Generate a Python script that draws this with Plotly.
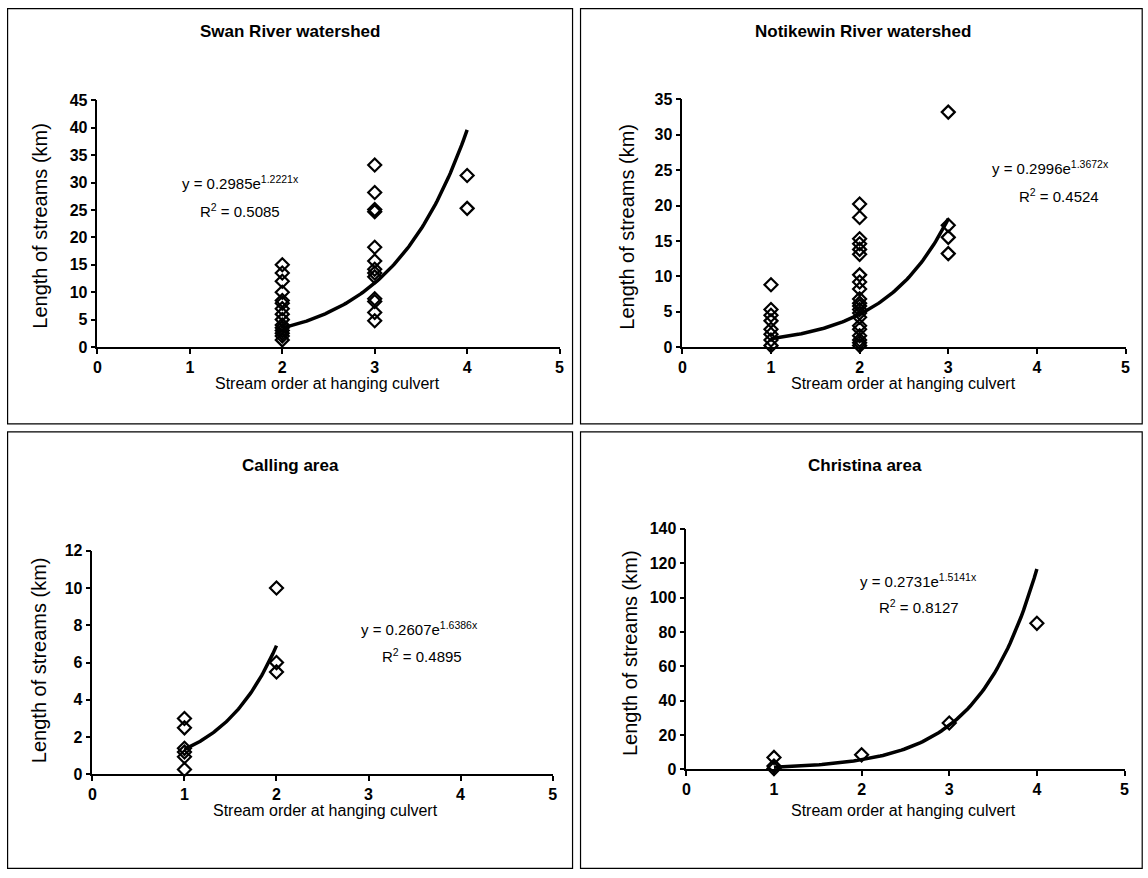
import numpy as np
import plotly.graph_objects as go

# ---------------- data ----------------
swan_x = [2]*15 + [3]*13 + [4]*2
swan_y = [15, 13.5, 12, 10, 8.5, 8, 7, 6, 5, 4, 3.5, 3, 2.5, 2, 1.3,
          33.2, 28.2, 25.1, 24.7, 18.2, 15.7, 14.2, 13.5, 12.8, 8.8, 8.3, 6.3, 4.8,
          31.3, 25.3]

noti_x = [1]*8 + [2]*21 + [3]*4
noti_y = [8.8, 5.3, 4.5, 3.7, 2.5, 1.8, 1.0, 0.2,
          20.2, 18.3, 15.3, 14.6, 13.8, 13.1, 10.2, 9.2, 8.2, 6.8, 6.2, 5.8, 5.3,
          4.8, 4.2, 3.0, 2.5, 1.6, 1.0, 0.6, 0.2,
          33.2, 17.2, 15.5, 13.2]

call_x = [1]*6 + [2]*3
call_y = [3.0, 2.5, 1.4, 1.2, 0.95, 0.27,
          10.0, 6.0, 5.5]

chri_x = [1, 1, 1, 2, 3, 4]
chri_y = [7.0, 2.0, 0.5, 8.5, 27.0, 85.0]

# fitted exponential trendlines y = a*exp(b*x), coefficients as printed
swan_fit = dict(a=0.2985, b=1.2221, x0=2, x1=4, r2="0.5085")
noti_fit = dict(a=0.2996, b=1.3672, x0=1, x1=3, r2="0.4524")
call_fit = dict(a=0.2607, b=1.6386, x0=1, x1=2, r2="0.4895")
chri_fit = dict(a=0.2731, b=1.5141, x0=1, x1=4, r2="0.8127")

titles = ["Swan River watershed", "Notikewin River watershed", "Calling area", "Christina area"]
y_ranges = [45, 35, 12, 140]
y_dticks = [5, 5, 2, 20]
x_ticks = [0, 1, 2, 3, 4, 5]

# ---------------- layout geometry ----------------
W, H = 1148, 878
FONT = "Arial, Liberation Sans, sans-serif"
# observed viewport -> picture mapping (picture = s*page + c); positions below are picture pixels
SX, CX = 0.994, 3.4
SY, CY = 0.982, 8.5

def px(x):
    return ((x - CX) / SX) / W

def py(y):
    return 1 - ((y - CY) / SY) / H

panels = [
    dict(xd=(97, 560), yd=(348, 101), box=(7, 7, 573, 425), title=(290, 32),
         eq=(240, 183), r2=(240, 211), yt=(40, 227), xt=(327, 385)),
    dict(xd=(683, 1127), yd=(348, 100), box=(581, 7, 1146, 425), title=(864, 32),
         eq=(1052, 168), r2=(1060, 196), yt=(628, 227), xt=(905, 385)),
    dict(xd=(92, 553), yd=(776, 552), box=(7, 433, 573, 875), title=(290, 467),
         eq=(420, 630), r2=(422, 657), yt=(38, 662), xt=(325, 812)),
    dict(xd=(687, 1126), yd=(771, 530), box=(581, 433, 1146, 875), title=(866, 467),
         eq=(920, 582), r2=(920, 608), yt=(630, 654), xt=(905, 812)),
]

datasets = [(swan_x, swan_y, swan_fit), (noti_x, noti_y, noti_fit),
            (call_x, call_y, call_fit), (chri_x, chri_y, chri_fit)]

fig = go.Figure()
annotations = []
shapes = []

def ann(text, pos, size, angle=0):
    return dict(text=text, x=px(pos[0]), y=py(pos[1]), xref="paper", yref="paper",
                xanchor="center", yanchor="middle", showarrow=False, textangle=angle,
                font=dict(family=FONT, size=size, color="black"))

def clamp(v):
    return min(max(v, 0.0007), 0.9993)

for i, (p, (xs, ys, fit)) in enumerate(zip(panels, datasets)):
    n = "" if i == 0 else str(i + 1)
    xa, ya = "x" + n, "y" + n
    xf = np.linspace(fit["x0"], fit["x1"], 100)
    yf = fit["a"] * np.exp(fit["b"] * xf)
    fig.add_trace(go.Scatter(x=xf, y=yf, mode="lines", line=dict(color="black", width=3.5),
                             xaxis=xa, yaxis=ya, showlegend=False, hoverinfo="skip"))
    fig.add_trace(go.Scatter(x=xs, y=ys, mode="markers",
                             marker=dict(symbol="diamond-open", size=10, color="black",
                                         line=dict(width=2.2, color="black")),
                             xaxis=xa, yaxis=ya, showlegend=False, cliponaxis=False))
    axis_common = dict(showgrid=False, zeroline=False, showline=True, linecolor="black",
                       linewidth=1.5, ticks="outside", ticklen=5, tickwidth=1.5, tickcolor="black",
                       tickfont=dict(family=FONT, size=16, color="black", weight="bold"))
    fig.layout["xaxis" + n] = dict(domain=[px(p["xd"][0]), px(p["xd"][1])], range=[0, 5],
                                   tickvals=x_ticks, anchor=ya, **axis_common)
    fig.layout["yaxis" + n] = dict(domain=[py(p["yd"][0]), py(p["yd"][1])], range=[0, y_ranges[i]],
                                   dtick=y_dticks[i], anchor=xa, **axis_common)
    b = p["box"]
    shapes.append(dict(type="rect", xref="paper", yref="paper",
                       x0=clamp(px(b[0])), x1=clamp(px(b[2])),
                       y0=clamp(py(b[3])), y1=clamp(py(b[1])),
                       line=dict(color="black", width=1.2)))
    annotations.append(ann("<b>" + titles[i] + "</b>", p["title"], 17))
    annotations.append(ann("y = %.4fe<sup>%.4fx</sup>" % (fit["a"], fit["b"]), p["eq"], 15))
    annotations.append(ann("R<sup>2</sup> = " + fit["r2"], p["r2"], 15))
    annotations.append(ann("Length of streams (km)", p["yt"], 20, -90))
    annotations.append(ann("Stream order at hanging culvert", p["xt"], 16))

fig.update_layout(width=W, height=H, margin=dict(l=0, r=0, t=0, b=0),
                  plot_bgcolor="white", paper_bgcolor="white",
                  annotations=annotations, shapes=shapes)

fig.write_html("out.html", config={"displayModeBar": False},
               post_script="document.body.style.margin='0';document.body.style.padding='0';"
                           "document.body.style.overflow='hidden';")
